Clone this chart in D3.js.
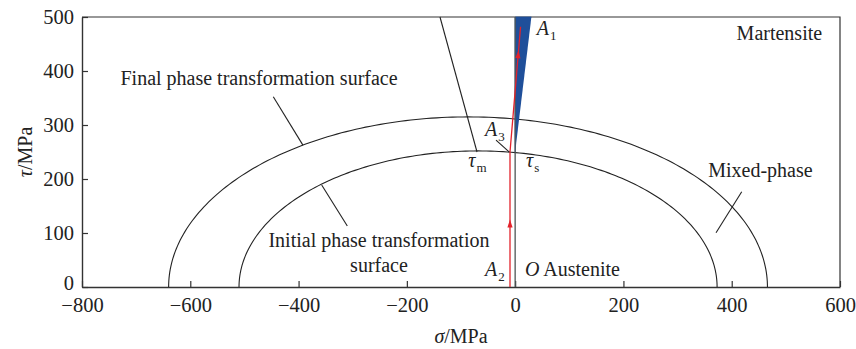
<!DOCTYPE html>
<html>
<head>
<meta charset="utf-8">
<script src="https://cdn.jsdelivr.net/npm/d3@7"></script>
<style>
  body { margin: 0; background: #fff; }
  svg text { font-family: "Liberation Serif", "Times New Roman", serif; fill: #222; }
</style>
</head>
<body>
<div id="chart"></div>
<script>
// tick labels
var xTicks = [-800, -600, -400, -200, 0, 200, 400, 600];
var yTicks = [0, 100, 200, 300, 400, 500];

// phase transformation surfaces (half ellipses): centre on sigma axis, half width, peak tau
var surfaceNames = ["Initial", "Final"];
var surfaceCentre = [-68.5, -87];
var surfaceHalfWidth = [441.5, 553];
var surfacePeak = [252, 315];

// loading path (sigma, tau)
var pathSigma = [-9.5, -9.5, 10];
var pathTau = [0, 250, 482];
// arrows on the path: segment index, fraction along segment
var arrowSeg = [0, 1];
var arrowFrac = [0.47, 0.78];

// martensite wedge
var wedgeSigma = [0, 0, 30];
var wedgeTau = [250, 500, 500];

// leader lines [sigma1, tau1, sigma2, tau2]
var leaders = [
  [-446.7, 352.4, -392, 262.8],
  [-138.8, 500, -70.4, 250],
  [-35.3, 272, -10.7, 249.6],
  [-357.3, 188.9, -310, 113],
  [418.5, 176.5, 371, 100.6]
];

var FONT = '"Liberation Serif", "Times New Roman", serif';

var margin = {top: 17, right: 16, bottom: 62, left: 82},
    width = 856 - margin.left - margin.right,
    height = 349 - margin.top - margin.bottom;

var svg = d3.select("#chart")
  .append("svg")
    .attr("width", 856)
    .attr("height", 349)
  .append("g")
    .attr("transform", "translate(" + margin.left + "," + margin.top + ")");

var x = d3.scaleLinear().domain([-800, 600]).range([0, width]);
var y = d3.scaleLinear().domain([0, 500]).range([height, 0]);

// axes, ticks pointing inward
var xAxis = svg.append("g")
  .attr("transform", "translate(0," + height + ")")
  .call(d3.axisBottom(x).tickValues(xTicks).tickSizeInner(-6).tickSizeOuter(0).tickPadding(10)
    .tickFormat(function(d) { return d < 0 ? "\u2212" + (-d) : d; }));
var yAxis = svg.append("g")
  .call(d3.axisLeft(y).tickValues(yTicks).tickSizeInner(-6).tickSizeOuter(0).tickPadding(8));
[xAxis, yAxis].forEach(function(a) {
  a.attr("font-family", null).attr("font-size", null);
  a.select(".domain").attr("stroke", "#333").attr("stroke-width", 1.4);
  a.selectAll(".tick line").attr("stroke", "#333").attr("stroke-width", 1.2);
  a.selectAll("text").style("font-family", FONT).style("font-size", "20.5px").attr("fill", "#222");
});
xAxis.selectAll("text").attr("dy", "0.72em");
// the "0" on tau axis sits a little higher, clear of "-800"
yAxis.selectAll(".tick text").filter(function(d) { return d === 0; }).attr("dy", "0.1em");

// frame top and right
svg.append("path")
  .attr("d", "M0,0H" + width + "V" + height)
  .attr("fill", "none").attr("stroke", "#333").attr("stroke-width", 1.2);

// surfaces
surfaceNames.forEach(function(n, i) {
  var pts = d3.range(0, 181).map(function(k) {
    var t = Math.PI * k / 180;
    return [surfaceCentre[i] + surfaceHalfWidth[i] * Math.cos(t), surfacePeak[i] * Math.sin(t)];
  });
  svg.append("path")
    .datum(pts)
    .attr("fill", "none").attr("stroke", "#222").attr("stroke-width", 1.1)
    .attr("d", d3.line().x(function(d) { return x(d[0]); }).y(function(d) { return y(d[1]); }));
});

// wedge
svg.append("path")
  .datum(d3.zip(wedgeSigma, wedgeTau))
  .attr("fill", "#1f4f9a").attr("stroke", "#1f4f9a").attr("stroke-width", 0.8)
  .attr("d", d3.line().x(function(d) { return x(d[0]); }).y(function(d) { return y(d[1]); }));

// sigma = 0 line
svg.append("line")
  .attr("x1", x(0)).attr("x2", x(0)).attr("y1", y(0)).attr("y2", y(500))
  .attr("stroke", "#4d5656").attr("stroke-width", 1.3);

// loading path
var pathPts = d3.zip(pathSigma, pathTau);
svg.append("path")
  .datum(pathPts)
  .attr("fill", "none").attr("stroke", "#e3222b").attr("stroke-width", 1.3)
  .attr("d", d3.line().x(function(d) { return x(d[0]); }).y(function(d) { return y(d[1]); }));

arrowSeg.forEach(function(s, i) {
  var p0 = pathPts[s], p1 = pathPts[s + 1], f = arrowFrac[i];
  var px = x(p0[0] + (p1[0] - p0[0]) * f), py = y(p0[1] + (p1[1] - p0[1]) * f);
  var ang = Math.atan2(y(p1[1]) - y(p0[1]), x(p1[0]) - x(p0[0])) * 180 / Math.PI;
  svg.append("path")
    .attr("d", "M4,0L-4,-2.6L-4,2.6Z")
    .attr("fill", "#e3222b")
    .attr("transform", "translate(" + px + "," + py + ") rotate(" + ang + ")");
});

// leaders
svg.selectAll(".leader")
  .data(leaders)
  .enter().append("line")
    .attr("class", "leader")
    .attr("x1", function(d) { return x(d[0]); })
    .attr("y1", function(d) { return y(d[1]); })
    .attr("x2", function(d) { return x(d[2]); })
    .attr("y2", function(d) { return y(d[3]); })
    .attr("stroke", "#222").attr("stroke-width", 1.1);

// text labels
function label(s, t, txt, anchor) {
  return svg.append("text")
    .attr("x", x(s)).attr("y", y(t))
    .attr("text-anchor", anchor || "start")
    .style("font-family", FONT)
    .style("font-size", "20px")
    .text(txt);
}
label(-473, 374, "Final phase transformation surface", "middle");
label(-251.5, 74.6, "Initial phase transformation", "middle");
label(-251.5, 28.3, "surface", "middle");
label(453, 204, "Mixed-phase", "middle");
label(567, 457, "Martensite", "end");

function sym(s, t, main, sub) {
  var tx = svg.append("text").attr("x", x(s)).attr("y", y(t))
    .style("font-family", FONT).style("font-size", "20px");
  tx.append("tspan").style("font-style", "italic").text(main);
  if (sub) tx.append("tspan").attr("dy", 5).attr("dx", 1).style("font-size", "13px").text(sub);
  return tx;
}
sym(39.8, 466.7, "A", "1");
sym(-55.7, 279.6, "A", "3");
sym(-55.7, 20.4, "A", "2");
sym(-86.5, 222, "\u03c4", "m");
sym(20, 222, "\u03c4", "s");
var ot = sym(18.2, 20.4, "O");
ot.append("tspan").text(" Austenite");

// axis titles
var xt = svg.append("text")
  .attr("x", width / 2).attr("y", height + 56)
  .attr("text-anchor", "middle").style("font-family", FONT).style("font-size", "20px");
xt.append("tspan").style("font-style", "italic").text("\u03c3");
xt.append("tspan").text("/MPa");

var yt = svg.append("text")
  .attr("transform", "translate(" + (32 - margin.left) + "," + (height / 2) + ") rotate(-90)")
  .attr("text-anchor", "middle").style("font-family", FONT).style("font-size", "20px");
yt.append("tspan").style("font-style", "italic").text("\u03c4");
yt.append("tspan").text("/MPa");
</script>
</body>
</html>
